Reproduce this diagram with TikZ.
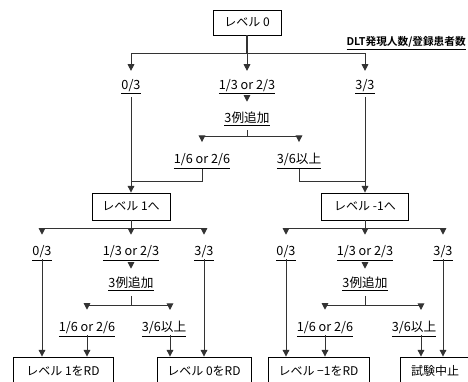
\documentclass[tikz,border=0pt]{standalone}
\usepackage{fontspec}
\setmainfont{Noto Sans CJK JP}
\newfontfamily\jpbold{Noto Sans CJK JP Bold}
\usetikzlibrary{arrows.meta}
\tikzset{
  ln/.style={line width=0.75pt, draw=black!80},
  arr/.style={ln, -{Triangle[width=5pt,length=5pt]}},
  box/.style={draw=black, line width=0.65pt, inner sep=0pt, font=\fontsize{9}{10}\selectfont},
  lab/.style={inner sep=0pt, text height=8pt, text depth=2.5pt, font=\fontsize{9.5}{10}\selectfont},
}
\newcommand{\ul}[1]{\underline{#1}}
\begin{document}
\begin{tikzpicture}[x=0.75pt,y=-0.75pt]
\useasboundingbox (0,0) rectangle (468,382);
\clip (0,0) rectangle (468,382);
% top level
\node[box, minimum width=51pt, minimum height=18.75pt] (L0) at (247,22.5) {レベル 0};
\node[lab, anchor=east, font=\fontsize{8}{9}\selectfont\jpbold] (dlt) at (466,42) {\ul{DLT発現人数/登録患者数}};
\node[lab] (a0) at (131,85.5) {\ul{0/3}};
\node[lab] (a1) at (247,85.5) {\ul{1/3 or 2/3}};
\node[lab] (a3) at (365,85.5) {\ul{3/3}};
\node[lab] (e0) at (247,119) {\ul{3例追加}};
\node[lab] (b1) at (202,160) {\ul{1/6 or 2/6}};
\node[lab] (b2) at (299,160) {\ul{3/6以上}};
\coordinate (j0) at (247,53);
\coordinate (je0) at (247,136);
\coordinate (mL) at (131,181);
\coordinate (mR) at (365,181);
\node[box, minimum width=58.5pt, minimum height=20.25pt] (L1) at (131,206.5) {レベル 1へ};
\node[box, minimum width=65.25pt, minimum height=20.25pt] (Lm) at (365,206.5) {レベル -1へ};
\draw[ln, line width=1.5pt] (L0.south) -- (j0);
\draw[arr, shorten >=5.5pt] (j0) -| (a0.north);
\draw[arr, shorten >=5.5pt] (j0) -- (a1.north);
\draw[arr, shorten >=5.5pt] (j0) -| (a3.north);
\draw[arr, shorten <=3pt, shorten >=7.5pt] (a1.south) -- (e0.north);
\draw[ln, shorten <=3pt] (e0.south) -- (je0);
\draw[arr, shorten >=8pt] (je0) -| (b1.north);
\draw[arr, shorten >=8pt] (je0) -| (b2.north);
\draw[ln, shorten <=1pt] (b1.south) |- (mL);
\draw[ln, shorten <=1pt] (b2.south) |- (mR);
\draw[arr, shorten <=3pt] (a0.south) -- (L1.north);
\draw[arr, shorten <=3pt] (a3.south) -- (Lm.north);
% left second level
\node[lab] (c0) at (42,252) {\ul{0/3}};
\node[lab] (c1) at (131,252) {\ul{1/3 or 2/3}};
\node[lab] (c3) at (204,252) {\ul{3/3}};
\node[lab] (f1) at (131,284) {\ul{3例追加}};
\node[lab] (d1) at (87,328) {\ul{1/6 or 2/6}};
\node[lab] (d2) at (164,328) {\ul{3/6以上}};
\coordinate (j1) at (131,228);
\coordinate (jf1) at (131,305);
\coordinate (t1) at (170,310);
\node[box, minimum width=75pt, minimum height=20.25pt] (R1) at (63,370.5) {レベル 1をRD};
\node[box, minimum width=70.5pt, minimum height=20.25pt] (R2) at (204,370.5) {レベル 0をRD};
\draw[ln] (L1.south) -- (j1);
\draw[arr, shorten >=7.5pt] (j1) -| (c0.north);
\draw[arr, shorten >=7.5pt] (j1) -- (c1.north);
\draw[arr, shorten >=7.5pt] (j1) -| (c3.north);
\draw[arr, shorten <=2pt, shorten >=6pt] (c1.south) -- (f1.north);
\draw[ln, shorten <=3.5pt] (f1.south) -- (jf1);
\draw[arr, shorten >=8.25pt] (jf1) -| (d1.north);
\draw[arr] (jf1) -| (t1);
\draw[arr] (c0.south) -- (c0.south |- R1.north);
\draw[arr] (d1.south) -- (d1.south |- R1.north);
\draw[arr] (t1 |- d2.south) -- (t1 |- R2.north);
\draw[arr] (c3.south) -- (c3.south |- R2.north);
% right second level
\node[lab] (g0) at (286,252) {\ul{0/3}};
\node[lab] (g1) at (365,252) {\ul{1/3 or 2/3}};
\node[lab] (g3) at (443,252) {\ul{3/3}};
\node[lab] (h1) at (365,284) {\ul{3例追加}};
\node[lab] (k1) at (325,328) {\ul{1/6 or 2/6}};
\node[lab] (k2) at (414,328) {\ul{3/6以上}};
\coordinate (j2) at (365,228);
\coordinate (jh1) at (365,305);
\coordinate (t2) at (421,310);
\node[box, minimum width=75.75pt, minimum height=20.25pt] (R3) at (318.5,370.5) {レベル −1をRD};
\node[box, minimum width=52.5pt, minimum height=20.25pt] (R4) at (435,370.5) {試験中止};
\draw[ln] (Lm.south) -- (j2);
\draw[arr, shorten >=7.5pt] (j2) -| (g0.north);
\draw[arr, shorten >=7.5pt] (j2) -- (g1.north);
\draw[arr, shorten >=7.5pt] (j2) -| (g3.north);
\draw[arr, shorten <=2pt, shorten >=6pt] (g1.south) -- (h1.north);
\draw[ln, shorten <=3.5pt] (h1.south) -- (jh1);
\draw[arr, shorten >=8.25pt] (jh1) -| (k1.north);
\draw[arr] (jh1) -| (t2);
\draw[arr] (g0.south) -- (g0.south |- R3.north);
\draw[arr] (k1.south) -- (k1.south |- R3.north);
\draw[arr] (t2 |- k2.south) -- (t2 |- R4.north);
\draw[arr] (g3.south) -- (g3.south |- R4.north);
\end{tikzpicture}
\end{document}
